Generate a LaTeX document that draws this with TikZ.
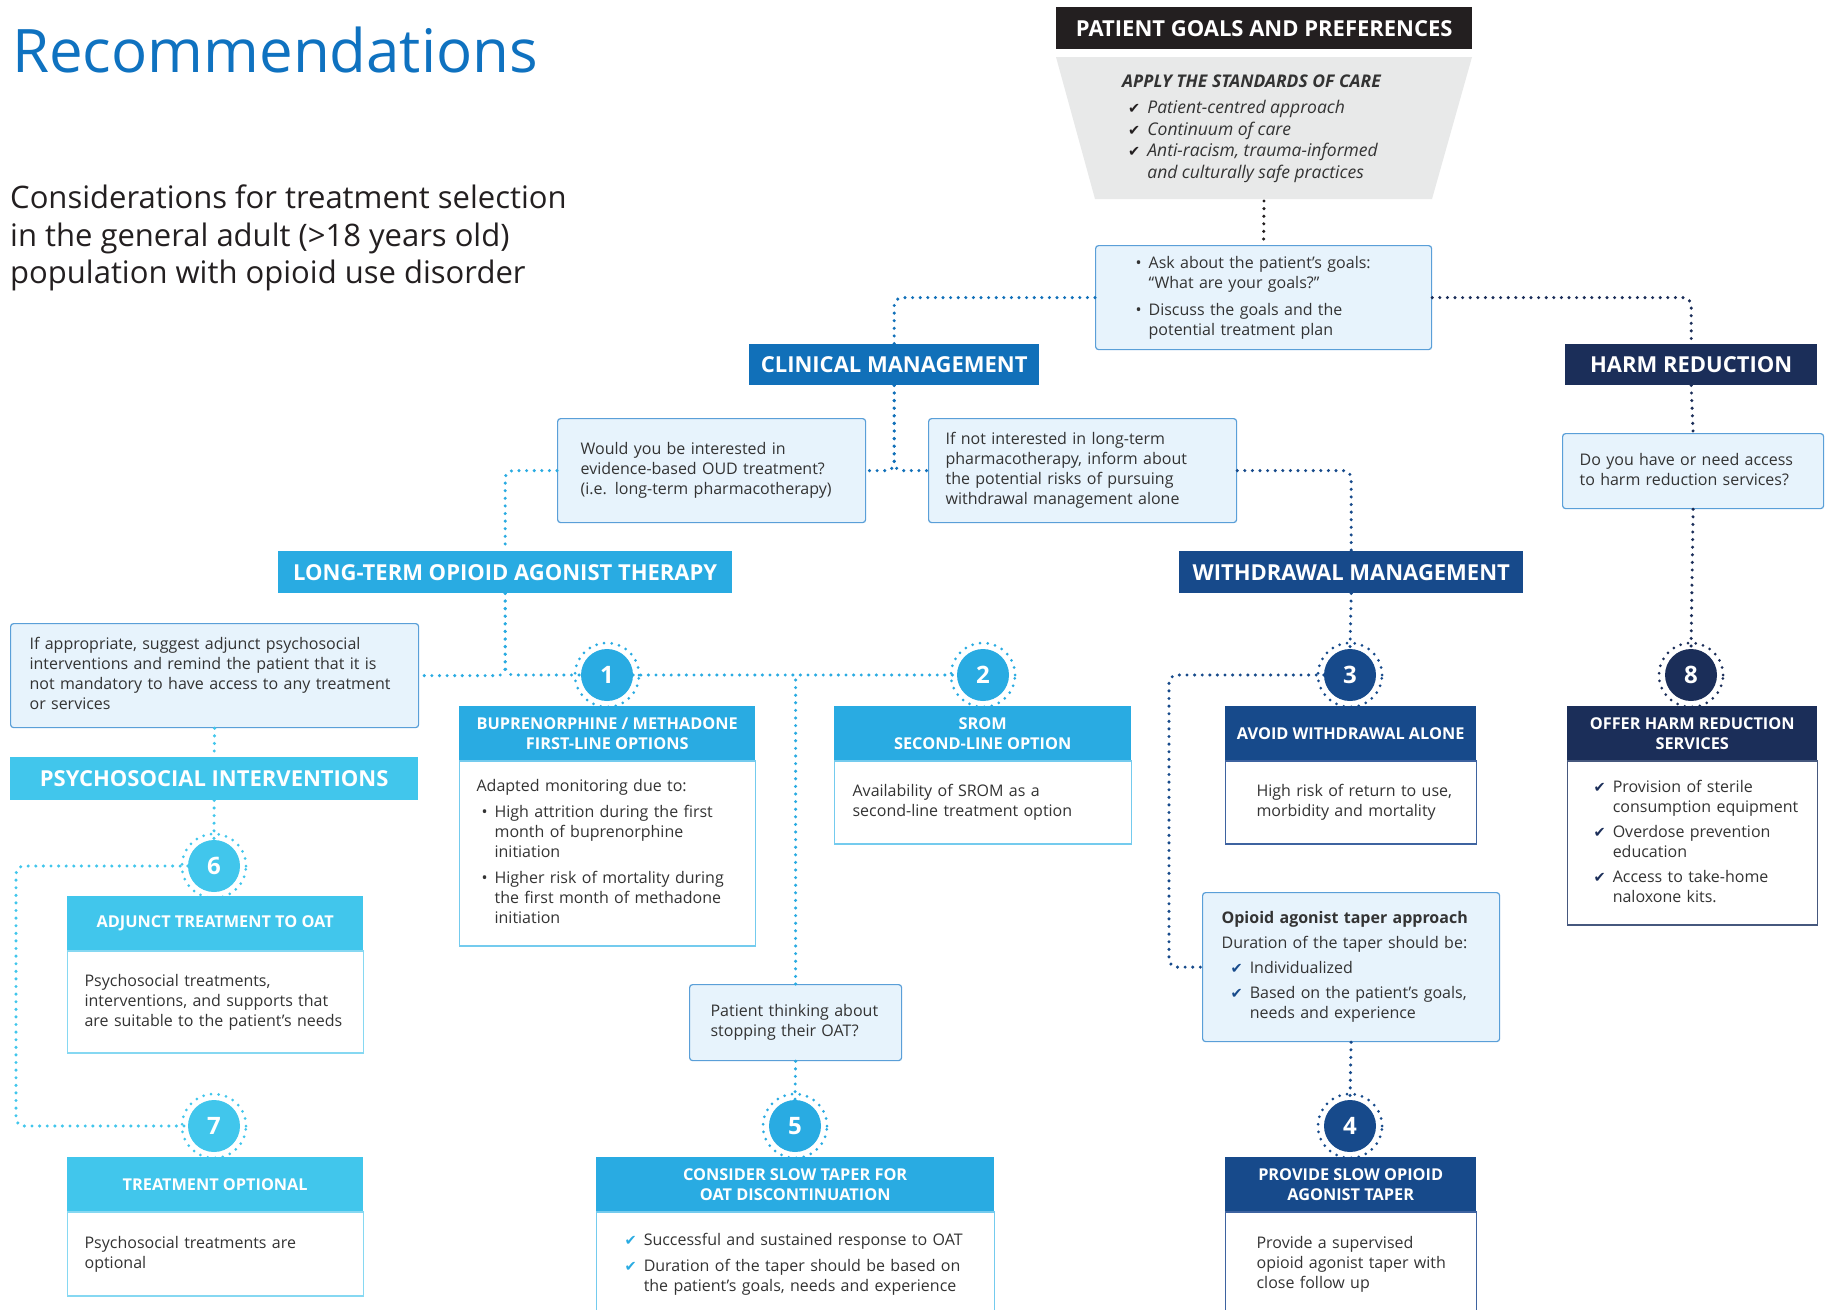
\documentclass[tikz,border=0pt]{standalone}
\usepackage{fontspec}
\setmainfont{Open Sans}
\newfontfamily\symfont{DejaVu Sans}
\usetikzlibrary{positioning}

\definecolor{titleblue}{HTML}{0F72C0}
\definecolor{clinblue}{HTML}{1170B9}
\definecolor{oatcyan}{HTML}{29ABE2}
\definecolor{oatline}{HTML}{74CBEE}
\definecolor{psycyan}{HTML}{41C6EC}
\definecolor{psyline}{HTML}{86D8F2}
\definecolor{wdnavy}{HTML}{174A8B}
\definecolor{wdline}{HTML}{3E63A0}
\definecolor{hrnavy}{HTML}{1B2E59}
\definecolor{hrline}{HTML}{46587E}
\definecolor{pgpblack}{HTML}{231F20}
\definecolor{caregray}{HTML}{E8E9E9}
\definecolor{qfill}{HTML}{E7F3FC}
\definecolor{qline}{HTML}{5A9FD8}
\definecolor{txt}{HTML}{333333}

\newcommand{\bodyfont}{\fontsize{16}{20}\selectfont}
\newcommand{\hdrfont}{\fontsize{16.3}{20}\selectfont\bfseries}
\newcommand{\barfont}{\fontsize{22}{26}\selectfont\bfseries}
\newcommand{\ck}[1]{\textcolor{#1}{\symfont\fontsize{14.5}{14.5}\selectfont\char"2714}}
\newcommand{\lst}[1]{\begin{tabular}{@{}l@{\hspace{7pt}}l@{}}#1\end{tabular}}
\newcommand{\lns}[1]{\begin{tabular}{@{}l@{}}#1\end{tabular}}

\tikzset{
 titlebar/.style={anchor=north west, fill=#1, text=white, font=\barfont, inner sep=0pt},
 hdrbox/.style={anchor=north west, fill=#1, text=white, font=\hdrfont, align=center, inner sep=0pt, minimum height=54pt},
 bodybox/.style={anchor=north west, draw=#1, line width=1.2pt, fill=white, text=txt, font=\bodyfont, align=left, inner ysep=0pt},
 askbox/.style={anchor=north west, draw=qline, line width=1.2pt, fill=qfill, rounded corners=3pt, text=txt, font=\bodyfont, align=left, inner ysep=0pt},
 numdot/.style={circle, fill=#1, text=white, font=\fontsize{24}{24}\selectfont\bfseries, minimum size=52pt, inner sep=0pt},
 ringdots/.style={draw=#1, line width=3pt, line cap=round, dash pattern=on 0pt off 7.6pt},
 link/.style={draw=#1, line width=3.4pt, line cap=round, dash pattern=on 0pt off 7.6pt, rounded corners=8pt}
}

\begin{document}
\begin{tikzpicture}[x=1pt,y=-1pt]
 \path[use as bounding box] (0,0) rectangle (1830,1309);
 \clip (0,0) rectangle (1830,1309);
 \fill[white] (0,0) rectangle (1830,1309);
 % tieu de
 \node[anchor=base west, inner sep=0pt, text=titleblue, font=\fontsize{60}{60}\selectfont] (ttl) at (12,72) {Recommendations};
 \node[anchor=north west, inner sep=0pt, text=pgpblack, font=\fontsize{31}{37.5}\selectfont, align=left] (sub) at (10,185)
 {Considerations for treatment selection\\in the general adult (>18 years old)\\population with opioid use disorder};
 % patient goals
 \node[titlebar=pgpblack, minimum width=416pt, minimum height=42pt] (pgp) at (1056,7) {PATIENT GOALS AND PREFERENCES};
 \fill[caregray] (1056,57) -- (1472,57) -- (1432,199) -- (1095,199) -- cycle;
 \coordinate (carebot) at (1264,201);
 \node[anchor=north west, inner sep=0pt, text=txt, font=\fontsize{17.5}{21.5}\selectfont\itshape] (care) at (1122,72)
 {\lst{\multicolumn{2}{@{}l@{}}{\bfseries APPLY THE STANDARDS OF CARE}\\[5pt]
 \hspace{6pt}\ck{pgpblack} & Patient-centred approach\\
 \hspace{6pt}\ck{pgpblack} & Continuum of care\\
 \hspace{6pt}\ck{pgpblack} & Anti-racism, trauma-informed\\
 & and culturally safe practices}};
 \node[askbox, text width=256pt, inner xsep=40pt, minimum height=104pt] (goals) at (1095,245)
 {\lst{\textbullet & Ask about the patient’s goals:\\ & “What are your goals?”\\[7pt]
 \textbullet & Discuss the goals and the\\ & potential treatment plan}};
 % hai nhanh chinh
 \node[titlebar=clinblue, minimum width=290pt, minimum height=41pt] (clin) at (749,344) {CLINICAL MANAGEMENT};
 \node[titlebar=hrnavy, minimum width=252pt, minimum height=41pt] (harm) at (1565,344) {HARM REDUCTION};
 \node[askbox, text width=262pt, inner xsep=23pt, minimum height=104pt] (would) at (557,418)
 {\lns{Would you be interested in\\evidence-based OUD treatment?\\(i.e. long-term pharmacotherapy)}};
 \node[askbox, text width=274pt, inner xsep=17pt, minimum height=104pt] (ifnot) at (928,418)
 {\lns{If not interested in long-term\\pharmacotherapy, inform about\\the potential risks of pursuing\\withdrawal management alone}};
 \node[askbox, text width=227pt, inner xsep=17pt, minimum height=75pt] (doyou) at (1562,433)
 {\lns{Do you have or need access\\to harm reduction services?}};
 \node[titlebar=oatcyan, minimum width=454pt, minimum height=42pt] (lt) at (278,551) {LONG-TERM OPIOID AGONIST THERAPY};
 \node[titlebar=wdnavy, minimum width=344pt, minimum height=42pt] (wd) at (1179,551) {WITHDRAWAL MANAGEMENT};
 \node[askbox, text width=370pt, inner xsep=19pt, minimum height=104pt] (adjq) at (10,623)
 {\lns{If appropriate, suggest adjunct psychosocial\\interventions and remind the patient that it is\\not mandatory to have access to any treatment\\or services}};
 \node[titlebar=psycyan, minimum width=408pt, minimum height=43pt] (psy) at (10,757) {PSYCHOSOCIAL INTERVENTIONS};
 \node[askbox, text width=170pt, inner xsep=21pt, minimum height=76pt] (pat) at (689,984)
 {\lns{Patient thinking about\\stopping their OAT?}};
 \node[askbox, text width=259pt, inner xsep=19pt, minimum height=149pt] (taper) at (1202,892)
 {\lst{\multicolumn{2}{@{}l@{}}{\bfseries Opioid agonist taper approach}\\[5pt]
 \multicolumn{2}{@{}l@{}}{Duration of the taper should be:}\\[5pt]
 \hspace{9pt}\ck{wdnavy} & Individualized\\[5pt]
 \hspace{9pt}\ck{wdnavy} & Based on the patient’s goals,\\ & needs and experience}};
 % cac hop co tieu de
 \node[hdrbox=oatcyan, minimum width=296pt] (bup) at (459,706) {BUPRENORPHINE / METHADONE\\FIRST-LINE OPTIONS};
 \node[bodybox=oatline, text width=262pt, inner xsep=17pt, minimum height=185pt] (bupb) at (bup.south west)
 {\lst{\multicolumn{2}{@{}l@{}}{Adapted monitoring due to:}\\[6pt]
 \hspace{5pt}\textbullet & High attrition during the first\\ & month of buprenorphine\\ & initiation\\[6pt]
 \hspace{5pt}\textbullet & Higher risk of mortality during\\ & the first month of methadone\\ & initiation}};
 \node[hdrbox=oatcyan, minimum width=297pt] (srom) at (834,706) {SROM\\SECOND-LINE OPTION};
 \node[bodybox=oatline, text width=261pt, inner xsep=18pt, minimum height=83pt] (sromb) at (srom.south west)
 {\lns{Availability of SROM as a\\second-line treatment option}};
 \node[hdrbox=wdnavy, minimum width=251pt] (avoid) at (1225,706) {AVOID WITHDRAWAL ALONE};
 \node[bodybox=wdline, text width=189pt, inner xsep=31pt, minimum height=83pt] (avoidb) at (avoid.south west)
 {\lns{High risk of return to use,\\morbidity and mortality}};
 \node[hdrbox=hrnavy, minimum width=250pt] (offer) at (1567,706) {OFFER HARM REDUCTION\\SERVICES};
 \node[bodybox=hrline, text width=198pt, inner xsep=26pt, minimum height=164pt] (offerb) at (offer.south west)
 {\lst{\ck{hrnavy} & Provision of sterile\\ & consumption equipment\\[5pt]
 \ck{hrnavy} & Overdose prevention\\ & education\\[5pt]
 \ck{hrnavy} & Access to take-home\\ & naloxone kits.}};
 \node[hdrbox=psycyan, minimum width=296pt] (adjt) at (67,896) {ADJUNCT TREATMENT TO OAT};
 \node[bodybox=psyline, text width=262pt, inner xsep=17pt, minimum height=102pt] (adjtb) at (adjt.south west)
 {\lns{Psychosocial treatments,\\interventions, and supports that\\are suitable to the patient’s needs}};
 \node[hdrbox=psycyan, minimum width=296pt] (topt) at (67,1157) {TREATMENT OPTIONAL};
 \node[bodybox=psyline, text width=262pt, inner xsep=17pt, minimum height=84pt] (toptb) at (topt.south west)
 {\lns{Psychosocial treatments are\\optional}};
 \node[hdrbox=oatcyan, minimum width=398pt] (slow) at (596,1157) {CONSIDER SLOW TAPER FOR\\OAT DISCONTINUATION};
 \node[bodybox=oatline, text width=342pt, inner xsep=28pt, minimum height=104pt] (slowb) at (slow.south west)
 {\lst{\ck{oatcyan} & Successful and sustained response to OAT\\[6pt]
 \ck{oatcyan} & Duration of the taper should be based on\\ & the patient's goals, needs and experience}};
 \node[hdrbox=wdnavy, minimum width=251pt] (prov) at (1225,1157) {PROVIDE SLOW OPIOID\\AGONIST TAPER};
 \node[bodybox=wdline, text width=189pt, inner xsep=31pt, minimum height=104pt] (provb) at (prov.south west)
 {\lns{Provide a supervised\\opioid agonist taper with\\close follow up}};
 % cac so
 \node[numdot=oatcyan] (c1) at (607,675) {1};
 \node[numdot=oatcyan] (c2) at (983,675) {2};
 \node[numdot=wdnavy] (c3) at (1350,675) {3};
 \node[numdot=wdnavy] (c4) at (1350,1126) {4};
 \node[numdot=oatcyan] (c5) at (795,1126) {5};
 \node[numdot=psycyan] (c6) at (214,866) {6};
 \node[numdot=psycyan] (c7) at (214,1126) {7};
 \node[numdot=hrnavy] (c8) at (1691,675) {8};
 \foreach \n/\c in {c1/oatcyan,c2/oatcyan,c5/oatcyan,c3/wdnavy,c4/wdnavy,c6/psycyan,c7/psycyan,c8/hrnavy}
 \draw[ringdots=\c] (\n) circle[radius=32pt];
 % duong cham
 \coordinate (psybend) at (16,1000);
 \coordinate (wdbend) at (1169,800);
 \draw[link=pgpblack] (carebot) -- (goals.north);
 \draw[link=clinblue] (goals.west) -| (clin.north);
 \draw[link=hrnavy] (goals.east) -| (harm.north);
 \draw[link=clinblue] (clin.south) |- (would.east);
 \draw[link=clinblue] (clin.south) |- (ifnot.west);
 \draw[link=oatcyan] (would.west) -| (lt.north);
 \draw[link=wdnavy] (ifnot.east) -| (wd.north);
 \draw[link=oatcyan] (lt.south) |- (adjq.east);
 \draw[link=oatcyan] (lt.south) |- (c1.west);
 \draw[link=oatcyan] (c1.east) -- (c2.west);
 \draw[link=oatcyan] (pat.north) -- (pat.north |- c1.center);
 \draw[link=oatcyan] (pat.south) -- (c5.north);
 \draw[link=psycyan] (adjq.south) -- (psy.north);
 \draw[link=psycyan] (psy.south) -- (c6.north);
 \draw[link=psycyan] (c6.west) -| (psybend) |- (c7.west);
 \draw[link=wdnavy] (wd.south) -- (c3.north);
 \draw[link=wdnavy] (c3.west) -| (wdbend) |- (taper.west);
 \draw[link=wdnavy] (taper.south) -- (c4.north);
 \draw[link=hrnavy] (harm.south) -- (doyou.north);
 \draw[link=hrnavy] (doyou.south) -- (c8.north);
\end{tikzpicture}
\end{document}
